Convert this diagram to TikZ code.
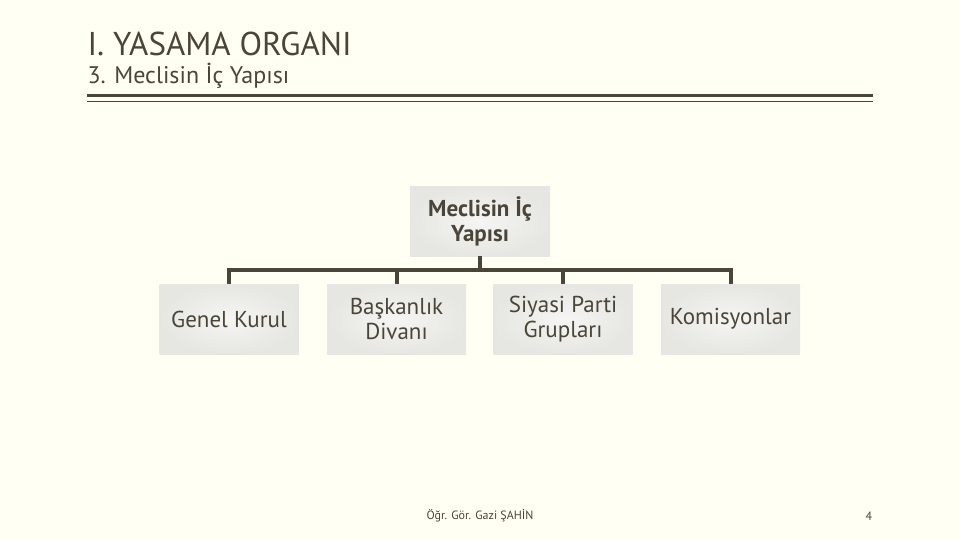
\documentclass[tikz,border=0pt]{standalone}
\usepackage{fontspec}
\setmainfont{PT Sans}
\definecolor{bg}{HTML}{FFFFF3}
\definecolor{ink}{HTML}{4A4538}
\definecolor{boxc}{HTML}{E6E6E2}
\tikzset{
  box/.style={fill=boxc, inner color=white!60!boxc, outer color=boxc, minimum width=139pt, minimum height=70pt, align=center, text=ink, inner sep=1pt, font=\fontsize{23}{25}\selectfont},
  conn/.style={draw=ink, line width=4pt},
}
\begin{document}
\begin{tikzpicture}[x=1pt,y=-1pt]
\fill[bg] (0,0) rectangle (960,540);
\useasboundingbox (0,0) rectangle (960,540);
\node[anchor=base west, text=ink, font=\fontsize{33}{34}\selectfont] (t1) at (84,56) {I. YASAMA ORGANI};
\node[anchor=base west, text=ink, font=\fontsize{24}{25}\selectfont] (t2) at (84,84) {3. Meclisin İç Yapısı};
\draw[ink, line width=3pt] (87,96) -- (873,96);
\draw[ink, line width=1.3pt] (87,101.5) -- (873,101.5);
\node[box, font=\bfseries\fontsize{23}{25}\selectfont, minimum width=140pt] (top) at (480,221) {Meclisin İç\\Yapısı};
\node[box] (c1) at (229,319) {Genel Kurul};
\node[box] (c2) at (396.5,319) {Başkanlık\\Divanı};
\node[box] (c3) at (563,319) {Siyasi Parti\\Grupları};
\node[box] (c4) at (730.5,319) {Komisyonlar};
\coordinate (bar) at (480,270);
\draw[conn] (top.south) -- (bar);
\draw[conn] (c1.north) |- (bar) -| (c4.north);
\draw[conn] (c2.north) -- (c2.north |- bar);
\draw[conn] (c3.north) -- (c3.north |- bar);
\node[text=ink, font=\fontsize{12}{13}\selectfont] (f) at (480,516) {Öğr. Gör. Gazi ŞAHİN};
\node[text=ink, font=\fontsize{12}{13}\selectfont] (p) at (869,516) {4};
\end{tikzpicture}
\end{document}
